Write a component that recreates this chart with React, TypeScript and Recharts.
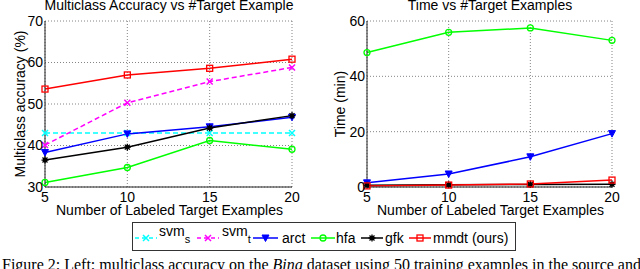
import React from 'react';
import { LineChart, Line, XAxis, YAxis, CartesianGrid } from 'recharts';

// ---------- data ----------
const targetExamples = [5, 10, 15, 20];
const accTicks = [30, 40, 50, 60, 70];
const timeTicks = [0, 20, 40, 60];

const accSvmS = [43.0, 43.0, 43.0, 43.0];
const accSvmT = [40.1, 50.3, 55.4, 58.8];
const accArct = [38.3, 42.8, 44.5, 46.8];
const accHfa = [31.1, 34.7, 41.2, 39.1];
const accGfk = [36.5, 39.6, 44.2, 47.2];
const accMmdt = [53.6, 57.0, 58.6, 60.8];

const timeHfa = [48.6, 55.9, 57.5, 53.0];
const timeArct = [1.5, 4.7, 10.9, 19.3];
const timeGfk = [0.6, 0.8, 0.9, 1.0];
const timeMmdt = [0.4, 0.7, 1.1, 2.5];

const leftTitle = 'Multiclass Accuracy vs #Target Example';
const rightTitle = 'Time vs #Target Examples';
const xLabel = 'Number of Labeled Target Examples';
const leftYLabel = 'Multiclass accuracy (%)';
const rightYLabel = 'Time (min)';

const accData = targetExamples.map((x, i) => ({
  x,
  svmS: accSvmS[i],
  svmT: accSvmT[i],
  arct: accArct[i],
  hfa: accHfa[i],
  gfk: accGfk[i],
  mmdt: accMmdt[i],
}));

const timeData = targetExamples.map((x, i) => ({
  x,
  arct: timeArct[i],
  hfa: timeHfa[i],
  gfk: timeGfk[i],
  mmdt: timeMmdt[i],
}));

// ---------- style ----------
const FONT = '"Liberation Sans", Arial, Helvetica, sans-serif';
const SERIF = '"Liberation Serif", "Times New Roman", serif';
const C = {
  cyan: '#00FFFF',
  magenta: '#FF00FF',
  blue: '#0000FF',
  green: '#00FF00',
  black: '#000000',
  red: '#FF0000',
};

type Kind = 'cross' | 'tri' | 'circle' | 'star' | 'square';

function Marker({ kind, color, cx, cy }: { kind: Kind; color: string; cx: number; cy: number }) {
  const s = 3;
  if (kind === 'cross') {
    return (
      <path
        d={`M${cx - s},${cy - s}L${cx + s},${cy + s}M${cx - s},${cy + s}L${cx + s},${cy - s}`}
        stroke={color}
        strokeWidth={1.5}
        fill="none"
      />
    );
  }
  if (kind === 'tri') {
    return (
      <path
        d={`M${cx - 3.5},${cy - 3}L${cx + 3.5},${cy - 3}L${cx},${cy + 3.5}Z`}
        stroke={color}
        strokeWidth={1}
        fill={color}
      />
    );
  }
  if (kind === 'circle') {
    return <circle cx={cx} cy={cy} r={3} stroke={color} strokeWidth={1.3} fill="none" />;
  }
  if (kind === 'square') {
    return <rect x={cx - 3} y={cy - 3} width={6} height={6} stroke={color} strokeWidth={1.3} fill="none" />;
  }
  // star / asterisk
  return (
    <g>
      <path
        d={`M${cx - 3.5},${cy}L${cx + 3.5},${cy}M${cx},${cy - 3.5}L${cx},${cy + 3.5}M${cx - 2.5},${cy - 2.5}L${cx + 2.5},${cy + 2.5}M${cx - 2.5},${cy + 2.5}L${cx + 2.5},${cy - 2.5}`}
        stroke={color}
        strokeWidth={1.3}
      />
      <circle cx={cx} cy={cy} r={2.2} fill={color} />
    </g>
  );
}

const dotFor = (kind: Kind, color: string, tag: string) => (p: any) => {
  const key = `${tag}-${p.index}`;
  if (p.cx == null || p.cy == null) return <g key={key} />;
  return (
    <g key={key}>
      <Marker kind={kind} color={color} cx={p.cx} cy={p.cy} />
    </g>
  );
};

const tickStyle = { fontFamily: FONT, fontSize: 14, fill: '#000' };

const yLabelContent = (text: string) => (p: any) => {
  const vb = p.viewBox || { x: 0, y: 0, width: 0, height: 0 };
  const x = vb.x + 25;
  const y = vb.y + vb.height / 2;
  return (
    <text
      x={x}
      y={y}
      transform={`rotate(-90, ${x}, ${y})`}
      textAnchor="middle"
      fontFamily={FONT}
      fontSize={14}
      fill="#000"
    >
      {text}
    </text>
  );
};

const xLabelContent = (text: string) => (p: any) => {
  const vb = p.viewBox || { x: 0, y: 0, width: 0, height: 0 };
  return (
    <text
      x={vb.x + vb.width / 2 + 1}
      y={vb.y + 28}
      textAnchor="middle"
      fontFamily={FONT}
      fontSize={14}
      fill="#000"
    >
      {text}
    </text>
  );
};

const CHART_W = 320;
const CHART_H = 230;
const MARGIN = { top: 21, right: 28, bottom: 0, left: 0 };

function AccuracyChart() {
  return (
    <LineChart width={CHART_W} height={CHART_H} data={accData} margin={MARGIN}>
      <CartesianGrid stroke="#666" strokeDasharray="1 2" strokeWidth={0.8} />
      <XAxis
        dataKey="x"
        type="number"
        domain={[5, 20]}
        ticks={targetExamples}
        height={43}
        tickSize={0}
        tickMargin={5}
        tick={tickStyle}
        axisLine={{ stroke: '#222', strokeWidth: 1 }}
        interval={0}
        label={{ content: xLabelContent(xLabel) }}
      />
      <YAxis
        type="number"
        domain={[30, 70]}
        ticks={accTicks}
        width={45}
        tickSize={0}
        tickMargin={2}
        tick={tickStyle}
        axisLine={{ stroke: '#222', strokeWidth: 1 }}
        interval={0}
        label={{ content: yLabelContent(leftYLabel) }}
      />
      <Line dataKey="svmS" stroke={C.cyan} strokeWidth={1.5} strokeDasharray="5 3" isAnimationActive={false} dot={dotFor('cross', C.cyan, 'as')} activeDot={false} />
      <Line dataKey="svmT" stroke={C.magenta} strokeWidth={1.5} strokeDasharray="5 3" isAnimationActive={false} dot={dotFor('cross', C.magenta, 'at')} activeDot={false} />
      <Line dataKey="arct" stroke={C.blue} strokeWidth={1.5} isAnimationActive={false} dot={dotFor('tri', C.blue, 'aa')} activeDot={false} />
      <Line dataKey="hfa" stroke={C.green} strokeWidth={1.5} isAnimationActive={false} dot={dotFor('circle', C.green, 'ah')} activeDot={false} />
      <Line dataKey="gfk" stroke={C.black} strokeWidth={1.5} isAnimationActive={false} dot={dotFor('star', C.black, 'ag')} activeDot={false} />
      <Line dataKey="mmdt" stroke={C.red} strokeWidth={1.5} isAnimationActive={false} dot={dotFor('square', C.red, 'am')} activeDot={false} />
    </LineChart>
  );
}

function TimeChart() {
  return (
    <LineChart width={CHART_W} height={CHART_H} data={timeData} margin={MARGIN}>
      <CartesianGrid stroke="#666" strokeDasharray="1 2" strokeWidth={0.8} />
      <XAxis
        dataKey="x"
        type="number"
        domain={[5, 20]}
        ticks={targetExamples}
        height={43}
        tickSize={0}
        tickMargin={5}
        tick={tickStyle}
        axisLine={{ stroke: '#222', strokeWidth: 1 }}
        interval={0}
        label={{ content: xLabelContent(xLabel) }}
      />
      <YAxis
        type="number"
        domain={[0, 60]}
        ticks={timeTicks}
        width={47}
        tickSize={0}
        tickMargin={2}
        tick={tickStyle}
        axisLine={{ stroke: '#222', strokeWidth: 1 }}
        interval={0}
        label={{ content: yLabelContent(rightYLabel) }}
      />
      <Line dataKey="arct" stroke={C.blue} strokeWidth={1.5} isAnimationActive={false} dot={dotFor('tri', C.blue, 'ta')} activeDot={false} />
      <Line dataKey="hfa" stroke={C.green} strokeWidth={1.5} isAnimationActive={false} dot={dotFor('circle', C.green, 'th')} activeDot={false} />
      <Line dataKey="gfk" stroke={C.black} strokeWidth={1.5} isAnimationActive={false} dot={dotFor('star', C.black, 'tg')} activeDot={false} />
      <Line dataKey="mmdt" stroke={C.red} strokeWidth={1.5} isAnimationActive={false} dot={dotFor('square', C.red, 'tm')} activeDot={false} />
    </LineChart>
  );
}

type LegendItem = { label: string; sub?: string; color: string; kind: Kind; dashed?: boolean; x1: number; x2: number; tx: number };
const legendItems: LegendItem[] = [
  { label: 'svm', sub: 's', color: C.cyan, kind: 'cross', dashed: true, x1: 135, x2: 157, tx: 159 },
  { label: 'svm', sub: 't', color: C.magenta, kind: 'cross', dashed: true, x1: 197, x2: 219, tx: 222 },
  { label: 'arct', color: C.blue, kind: 'tri', x1: 253, x2: 278, tx: 282 },
  { label: 'hfa', color: C.green, kind: 'circle', x1: 311, x2: 335, tx: 336 },
  { label: 'gfk', color: C.black, kind: 'star', x1: 361, x2: 383, tx: 385 },
  { label: 'mmdt (ours)', color: C.red, kind: 'square', x1: 409, x2: 431, tx: 433 },
];

function LegendOverlay() {
  const ly = 238;
  return (
    <svg width={640} height={269} style={{ position: 'absolute', left: 0, top: 0, pointerEvents: 'none' }}>
      <rect x={132.5} y={222.5} width={383} height={28} fill="#fff" stroke="#333" strokeWidth={1} />
      {legendItems.map((it) => (
        <g key={it.label + (it.sub || '')}>
          <line
            x1={it.x1}
            x2={it.x2}
            y1={ly}
            y2={ly}
            stroke={it.color}
            strokeWidth={1.5}
            strokeDasharray={it.dashed ? '4 3' : undefined}
          />
          <Marker kind={it.kind} color={it.color} cx={(it.x1 + it.x2) / 2} cy={ly} />
          {it.sub ? (
            <text x={it.tx} y={236} fontFamily={FONT} fontSize={14} fill="#000">
              {it.label}
              <tspan dy={7} fontSize={11}>
                {it.sub}
              </tspan>
            </text>
          ) : (
            <text x={it.tx} y={242.5} fontFamily={FONT} fontSize={14} fill="#000">
              {it.label}
            </text>
          )}
        </g>
      ))}
      <text x={2} y={269.5} fontFamily={SERIF} fontSize={16} fill="#000">
        Figure 2: Left: multiclass accuracy on the <tspan fontStyle="italic">Bing</tspan> dataset using 50 training
        examples in the source and
      </text>
    </svg>
  );
}

export default function App() {
  return (
    <div
      style={{
        position: 'fixed',
        left: 0,
        top: 0,
        width: 640,
        height: 269,
        overflow: 'hidden',
        background: '#fff',
        fontFamily: FONT,
      }}
    >
      <div style={{ position: 'absolute', left: 0, top: 0 }}>
        <AccuracyChart />
      </div>
      <div style={{ position: 'absolute', left: 320, top: 0 }}>
        <TimeChart />
      </div>
      <svg width={640} height={20} style={{ position: 'absolute', left: 0, top: 0 }}>
        <text x={169} y={10} textAnchor="middle" fontFamily={FONT} fontSize={14} fill="#000">
          {leftTitle}
        </text>
        <text x={490} y={10} textAnchor="middle" fontFamily={FONT} fontSize={14} fill="#000">
          {rightTitle}
        </text>
      </svg>
      <LegendOverlay />
    </div>
  );
}
